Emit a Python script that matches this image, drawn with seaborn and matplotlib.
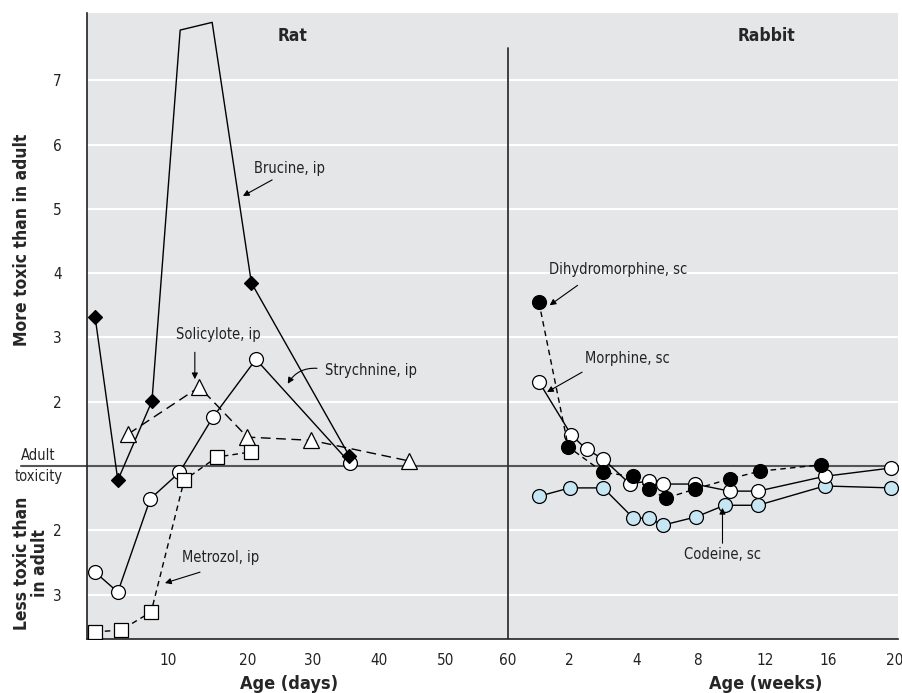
import numpy as np
import matplotlib
matplotlib.use("Agg")
import matplotlib.pyplot as plt
from matplotlib import font_manager
import seaborn as sns

# --- Rat (age in days); y = toxicity on chart scale (1 = adult, 0 = 2x less, -1 = 3x less)
brucine_days = [1, 3.8, 8, 11.5, 15.5, 20.5, 35.5]
brucine = [3.32, 0.78, 2.01, 7.78, 7.90, 3.85, 1.16]
brucine_marked = [0, 1, 2, 5, 6]

strychnine_days = [1, 3.8, 7.8, 11.4, 15.6, 21.2, 35.6]
strychnine = [-0.65, -0.96, 0.49, 0.90, 1.76, 2.66, 1.05]

solicylote_days = [5.1, 13.9, 19.9, 29.7, 44.5]
solicylote = [1.50, 2.23, 1.45, 1.40, 1.08]

metrozol_days = [1, 4.2, 7.9, 12, 16.1, 20.5]
metrozol = [-1.58, -1.55, -1.27, 0.78, 1.14, 1.22]

# --- Rabbit (age in weeks)
dihydro_weeks = [1, 1.95, 3, 3.9, 4.8, 5.9, 7.8, 9.9, 11.7, 15.6]
dihydro = [3.55, 1.30, 0.90, 0.84, 0.64, 0.50, 0.64, 0.80, 0.92, 1.02]

morphine_weeks = [1, 2.05, 2.5, 3, 3.8, 4.8, 5.7, 7.8, 9.9, 11.6, 15.8, 19.8]
morphine = [2.31, 1.48, 1.26, 1.11, 0.72, 0.77, 0.72, 0.72, 0.61, 0.61, 0.84, 0.97]

codeine_weeks = [1, 2, 3, 3.9, 4.8, 5.7, 7.9, 9.6, 11.6, 15.8, 19.8]
codeine = [0.53, 0.66, 0.66, 0.19, 0.19, 0.08, 0.21, 0.39, 0.39, 0.69, 0.66]

# axis ticks
day_ticks = [0, 10, 20, 30, 40, 50, 60]
week_ticks = [0, 2, 4, 8, 12, 16, 20]
y_ticks = [7, 6, 5, 4, 3, 2, 0, -1]
y_labels = ["7", "6", "5", "4", "3", "2", "2", "3"]

# where the ticks sit along the shared x axis (the original scale is uneven)
day_pos = [0.0, 1.25, 2.48, 3.48, 4.49, 5.52, 6.48]
week_pos = [6.48, 7.43, 8.46, 9.40, 10.43, 11.40, 12.43]


def dpos(d):
    return np.interp(d, day_ticks, day_pos)


def wpos(w):
    return np.interp(w, week_ticks, week_pos)


sns.set_style("white", {"axes.facecolor": "#e5e6e8"})
names = {f.name for f in font_manager.fontManager.ttflist}
if "Liberation Sans Narrow" in names:
    plt.rcParams["font.family"] = ["Liberation Sans Narrow", "DejaVu Sans"]
else:
    plt.rcParams["font.family"] = ["DejaVu Sans"]
    plt.rcParams["font.stretch"] = "condensed"

fig = plt.figure(figsize=(9.03, 6.93), dpi=100)
ax = fig.add_axes([0.0963, 0.0779, 0.8981, 0.9033])
ax.set_xlim(0, 12.48)
ax.set_ylim(-1.69, 8.045)

for y in y_ticks:
    ax.axhline(y, color="white", lw=1.5, zorder=0.5)
ax.axhline(1, xmin=-0.081, xmax=1, color="#555555", lw=1.5, clip_on=False, zorder=1)
ax.plot([6.48, 6.48], [-1.69, 7.5], color="#333333", lw=1.3, zorder=1)

blk = dict(color="black", lw=1.0, markeredgecolor="black", markeredgewidth=0.9, zorder=3)

sns.lineplot(x=dpos(strychnine_days), y=strychnine, ax=ax, marker="o", markersize=10,
             markerfacecolor="white", **blk)
sns.lineplot(x=dpos(brucine_days), y=brucine, ax=ax, marker="D", markersize=7,
             markerfacecolor="black", markevery=brucine_marked, **blk)
sns.lineplot(x=dpos(solicylote_days), y=solicylote, ax=ax, marker="^", markersize=11,
             markerfacecolor="white", dashes=(7, 4), **blk)
sns.lineplot(x=dpos(metrozol_days), y=metrozol, ax=ax, marker="s", markersize=9.5,
             markerfacecolor="white", dashes=(4, 3), **blk)

sns.lineplot(x=wpos(codeine_weeks), y=codeine, ax=ax, marker="o", markersize=10,
             markerfacecolor="#c6e6f4", **blk)
sns.lineplot(x=wpos(morphine_weeks), y=morphine, ax=ax, marker="o", markersize=10,
             markerfacecolor="white", **blk)
sns.lineplot(x=wpos(dihydro_weeks), y=dihydro, ax=ax, marker="o", markersize=10,
             markerfacecolor="black", dashes=(4, 3), **blk)

ax.set_xticks(list(day_pos[1:]) + list(week_pos[1:]))
ax.set_xticklabels([str(t) for t in day_ticks[1:]] + [str(t) for t in week_ticks[1:]])
ax.set_yticks(y_ticks)
ax.set_yticklabels(y_labels)
ax.tick_params(axis="both", length=0, labelsize=11, colors="#222222")
ax.tick_params(axis="y", pad=18)
ax.tick_params(axis="x", pad=10)
for s in ["top", "right"]:
    ax.spines[s].set_visible(False)
for s in ["left", "bottom"]:
    ax.spines[s].set_color("#222222")
    ax.spines[s].set_linewidth(1.2)

ax.set_xlabel("")
ax.set_ylabel("")
ax.text(3.17, 7.69, "Rat", ha="center", va="center", fontsize=12.5, fontweight="bold")
ax.text(10.45, 7.69, "Rabbit", ha="center", va="center", fontsize=12.5, fontweight="bold")
fig.text(289 / 903, 1 - 684 / 693, "Age (days)", ha="center", va="center",
         fontsize=13, fontweight="bold")
fig.text(766 / 903, 1 - 684 / 693, "Age (weeks)", ha="center", va="center",
         fontsize=13, fontweight="bold")
fig.text(22 / 903, 1 - 240 / 693, "More toxic than in adult", rotation=90,
         ha="center", va="center", fontsize=12.5, fontweight="bold")
fig.text(31 / 903, 1 - 563 / 693, "Less toxic than\nin adult", rotation=90,
         ha="center", va="center", fontsize=12.5, fontweight="bold", linespacing=0.95)
fig.text(38 / 903, 1 - 456 / 693, "Adult", ha="center", va="center", fontsize=10.5)
fig.text(39 / 903, 1 - 477 / 693, "toxicity", ha="center", va="center", fontsize=10.5)

arrow = dict(arrowstyle="-|>", color="black", lw=0.8, mutation_scale=9, shrinkA=0, shrinkB=0)
notes = [
    ("Brucine, ip", (3.11, 5.63), (2.85, 5.45), (2.40, 5.20), "arc3"),
    ("Solicylote, ip", (2.03, 3.04), (1.66, 2.77), (1.66, 2.35), "arc3"),
    ("Strychnine, ip", (4.37, 2.49), (3.54, 2.52), (3.09, 2.28), "arc3,rad=0.3"),
    ("Metrozol, ip", (2.05, -0.43), (1.74, -0.65), (1.20, -0.82), "arc3"),
    ("Dihydromorphine, sc", (8.17, 4.05), (7.55, 3.81), (7.12, 3.50), "arc3"),
    ("Morphine, sc", (8.31, 2.68), (7.62, 2.46), (7.08, 2.15), "arc3"),
    ("Codeine, sc", (9.78, -0.38), (9.78, -0.20), (9.78, 0.35), "arc3"),
]
for label, tpos, tail, head, cs in notes:
    ax.text(tpos[0], tpos[1], label, ha="center", va="center", fontsize=10.5, color="#222222")
    ax.annotate("", xy=head, xytext=tail, arrowprops=dict(arrow, connectionstyle=cs))

fig.savefig("out.png", dpi=100)
